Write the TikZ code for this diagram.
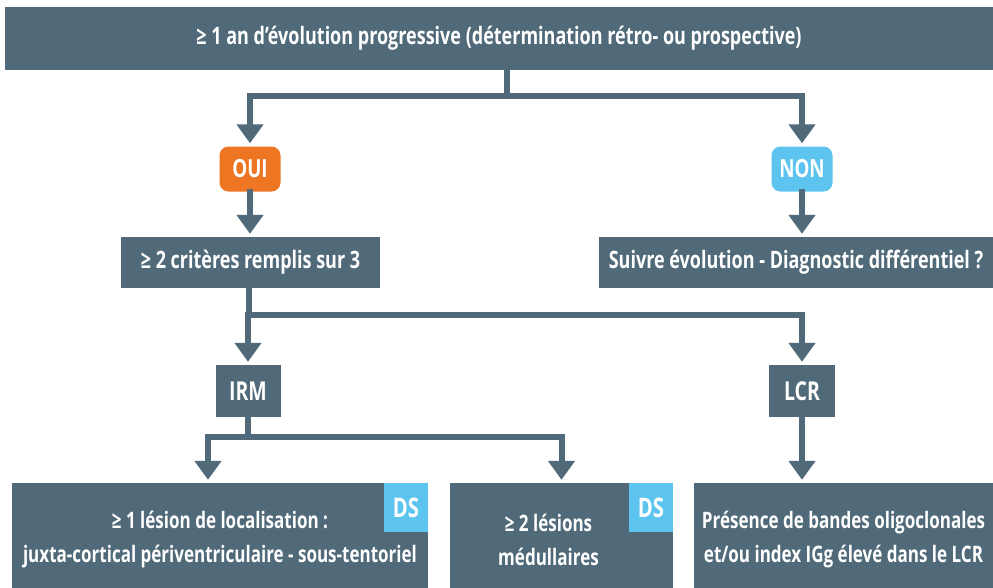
\documentclass[tikz,border=0pt]{standalone}
\usepackage{fontspec}
\setmainfont{Open Sans}[FakeStretch=0.75]
\usepackage{tikz}
\usetikzlibrary{positioning}
\usetikzlibrary{calc}
\usetikzlibrary{arrows, shapes, arrows.meta}
\definecolor{slate}{RGB}{80,106,121}
\definecolor{orng}{RGB}{238,118,35}
\definecolor{sky}{RGB}{92,196,238}
\tikzstyle{box} = [rectangle, fill=slate, text=white, align=center, inner sep=0pt, font=\bfseries\fontsize{24}{32}\selectfont]
\tikzstyle{low} = [box, minimum height=113pt, font=\bfseries\fontsize{22.7}{34}\selectfont]
\tikzstyle{tag} = [rectangle, rounded corners=9pt, text=white, inner sep=0pt, minimum width=61pt, minimum height=45pt, font=\bfseries\fontsize{25}{28}\selectfont]
\tikzstyle{ds} = [rectangle, fill=sky, text=white, inner sep=0pt, minimum width=44pt, minimum height=49pt, anchor=north east, font=\bfseries\fontsize{27}{30}\selectfont]
\tikzstyle{line} = [draw=slate, line width=6pt, line cap=rect]
\tikzstyle{arrow} = [line, -{Triangle[width=26pt,length=19pt]}, shorten >=3pt]

\begin{document}
\begin{tikzpicture}[x=1pt,y=-1pt]
    \useasboundingbox (0,0) rectangle (993,587);
    % boxes
    \node[box, minimum width=988pt, minimum height=63pt] (top) at (499,38.5) {≥ 1 an d’évolution progressive (détermination rétro- ou prospective)};
    \node[tag, fill=orng] (oui) at (250,169) {OUI};
    \node[tag, fill=sky] (non) at (802,169) {NON};
    \node[box, minimum width=259pt, minimum height=51pt] (crit) at (250.5,262.5) {≥ 2 critères remplis sur 3};
    \node[box, minimum width=394pt, minimum height=51pt] (suiv) at (796,262.5) {Suivre évolution - Diagnostic différentiel ?};
    \node[box, minimum width=65pt, minimum height=52pt, font=\bfseries\fontsize{26}{30}\selectfont] (irm) at (248,391) {IRM};
    \node[box, minimum width=66pt, minimum height=52pt, font=\bfseries\fontsize{26}{30}\selectfont] (lcr) at (802,391) {LCR};
    \node[low, minimum width=416pt] (les1) at (220,539.5) {≥ 1 lésion de localisation :\\juxta-cortical périventriculaire - sous-tentoriel};
    \node[low, minimum width=223pt] (les2) at (561.5,539.5) {\hspace*{-26pt}≥ 2 lésions\\\hspace*{-26pt}médullaires};
    \node[low, minimum width=299pt] (pres) at (843.5,539.5) {Présence de bandes oligoclonales\\et/ou index IGg élevé dans le LCR};
    \node[ds] (ds1) at (les1.north east) {DS};
    \node[ds] (ds2) at (les2.north east) {DS};
    % junctions
    \coordinate (j1) at (507,96);
    \coordinate (j2) at (249,315);
    \coordinate (j3) at (248,437);
    % connectors
    \draw[line] (top.south -| j1) -- (j1);
    \draw[arrow] (j1) -| (oui);
    \draw[arrow] (j1) -| (non);
    \draw[arrow] (oui.south) -- (oui.south |- crit.north);
    \draw[arrow] (non.south) -- (non.south |- suiv.north);
    \draw[line] (crit.south -| j2) -- (j2);
    \draw[arrow] (j2) -| (irm);
    \draw[arrow] (j2) -| (lcr);
    \draw[line] (irm) -- (j3);
    \draw[arrow] (j3) -| ($(les1.north)+(-12,0)$);
    \draw[arrow] (j3) -| (les2);
    \draw[arrow] (lcr.south) -- (lcr.south |- pres.north);
\end{tikzpicture}
\end{document}
